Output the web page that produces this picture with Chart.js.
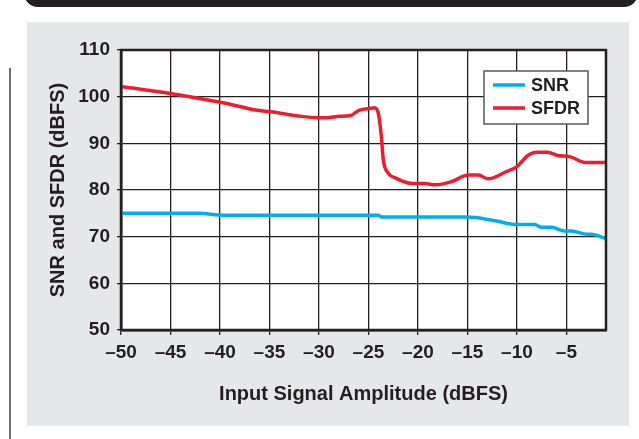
<!DOCTYPE html>
<html>
<head>
    <title>SNR and SFDR vs Input Amplitude</title>
    <script src="https://cdn.jsdelivr.net/npm/chart.js"></script>
    <style>
        body { margin:0; width:639px; height:439px; background:#fff; position:relative; overflow:hidden; }
        #topbar { position:absolute; left:24px; top:-8px; width:614px; height:15px; background:#231f20; border-radius:0 0 14px 14px; }
        #sideline { position:absolute; left:9px; top:68px; width:2px; height:371px; background:#6d6e71; }
        #panel { position:absolute; left:27px; top:22px; width:602px; height:404px; background:#e6e7e8; }
    </style>
</head>
<body>
<div id="topbar"></div>
<div id="sideline"></div>
<div id="panel"><canvas id="snrChart"></canvas></div>
<script>
// values
const snrX  = [-50, -42.3, -39.5, -30, -24, -23.7, -15, -12.2, -10, -8.2, -7.5, -6.5, -5.2, -4.5, -2.9, -2.5, -1];
const snrY  = [75.0, 75.0, 74.6, 74.6, 74.6, 74.2, 74.2, 73.4, 72.6, 72.6, 72.0, 72.0, 71.2, 71.2, 70.5, 70.5, 69.6];
const sfdrX = [-50, -45, -40, -38, -36.6, -35, -32.2, -30, -29.2, -27.9, -26.9, -25.9, -24.8, -24.4, -24, -23.7, -23.5, -23, -22.3, -20.6, -19.3, -18.3, -16.6, -14.9, -13.9, -12.9, -11.2, -10, -8.9, -8, -6.9, -5.9, -4.6, -3.1, -1];
const sfdrY = [102.2, 100.7, 98.8, 97.9, 97.2, 96.8, 95.9, 95.5, 95.5, 95.8, 95.9, 97.1, 97.5, 97.6, 96.4, 91.5, 86.5, 83.6, 82.6, 81.4, 81.4, 81.1, 81.8, 83.2, 83.2, 82.4, 83.8, 85.0, 87.4, 88.1, 88.1, 87.4, 87.1, 85.9, 85.9];
const xTicks = [-50, -45, -40, -35, -30, -25, -20, -15, -10, -5];
const seriesNames = ['SNR', 'SFDR'];

const ink = '#231f20';
Chart.defaults.font.family = "'Liberation Sans', Arial, sans-serif";
Chart.defaults.font.weight = 'bold';
Chart.defaults.color = ink;

const pts = (xs, ys) => xs.map((x, i) => ({x: x, y: ys[i]}));
const dash = v => v < 0 ? '\u2013' + Math.abs(v) : String(v);

// white plot area + outer frame
const frame = {
  id: 'frame',
  beforeDraw(c) {
    const a = c.chartArea, ctx = c.ctx;
    ctx.save(); ctx.fillStyle = '#fff';
    ctx.fillRect(a.left, a.top, a.right - a.left, a.bottom - a.top);
    ctx.restore();
  },
  afterDatasetsDraw(c) {
    const a = c.chartArea, ctx = c.ctx;
    ctx.save(); ctx.strokeStyle = ink; ctx.lineWidth = 2.5;
    ctx.strokeRect(a.left, a.top, a.right - a.left, a.bottom - a.top);
    ctx.restore();
  }
};

// legend box inside the plot, top right
const boxLegend = {
  id: 'boxLegend',
  afterDatasetsDraw(c) {
    const a = c.chartArea, ctx = c.ctx;
    const w = 104, h = 53, x = a.right - 18 - w, y = a.top + 21;
    ctx.save();
    ctx.fillStyle = '#fff'; ctx.fillRect(x, y, w, h);
    ctx.strokeStyle = '#58595b'; ctx.lineWidth = 1.5; ctx.strokeRect(x, y, w, h);
    ctx.font = "bold 18px 'Liberation Sans', Arial, sans-serif";
    ctx.textBaseline = 'middle';
    c.data.datasets.forEach((ds, i) => {
      const ly = y + 14 + i * 23;
      ctx.strokeStyle = ds.borderColor; ctx.lineWidth = 3.5;
      ctx.beginPath(); ctx.moveTo(x + 9, ly); ctx.lineTo(x + 41, ly); ctx.stroke();
      ctx.fillStyle = ink; ctx.fillText(ds.label, x + 47, ly + 1);
    });
    ctx.restore();
  }
};

new Chart(document.getElementById('snrChart'), {
  type: 'line',
  data: {
    datasets: [
      {label: seriesNames[0], data: pts(snrX, snrY), borderColor: '#00aeef', borderWidth: 3.5, pointRadius: 0, cubicInterpolationMode: 'monotone'},
      {label: seriesNames[1], data: pts(sfdrX, sfdrY), borderColor: '#ed1c2e', borderWidth: 3.5, pointRadius: 0, cubicInterpolationMode: 'monotone'}
    ]
  },
  options: {
    responsive: true,
    maintainAspectRatio: false,
    animation: false,
    layout: {padding: {left: 0, top: 28, right: 23, bottom: 0}},
    plugins: {legend: {display: false}, tooltip: {enabled: false}},
    scales: {
      x: {
        type: 'linear', min: -50, max: -1,
        afterBuildTicks: s => { s.ticks = xTicks.map(v => ({value: v})); },
        afterFit: s => { s.height = 96; },
        ticks: {callback: dash, font: {size: 19}, padding: 6, maxRotation: 0, autoSkip: false},
        grid: {color: ink, lineWidth: 1.3, tickLength: 5},
        border: {color: ink, width: 2.5},
        title: {display: true, text: 'Input Signal Amplitude (dBFS)', font: {size: 20}, padding: {top: 0, bottom: 20}}
      },
      y: {
        min: 50, max: 110,
        afterFit: s => { s.width = 94; },
        ticks: {stepSize: 10, font: {size: 19}, padding: 7},
        grid: {color: ink, lineWidth: 1.3, tickLength: 4},
        border: {color: ink, width: 2.5},
        title: {display: true, text: 'SNR and SFDR (dBFS)', font: {size: 20}, padding: {top: 19.5, bottom: 0}}
      }
    }
  },
  plugins: [frame, boxLegend]
});
</script>
</body>
</html>
